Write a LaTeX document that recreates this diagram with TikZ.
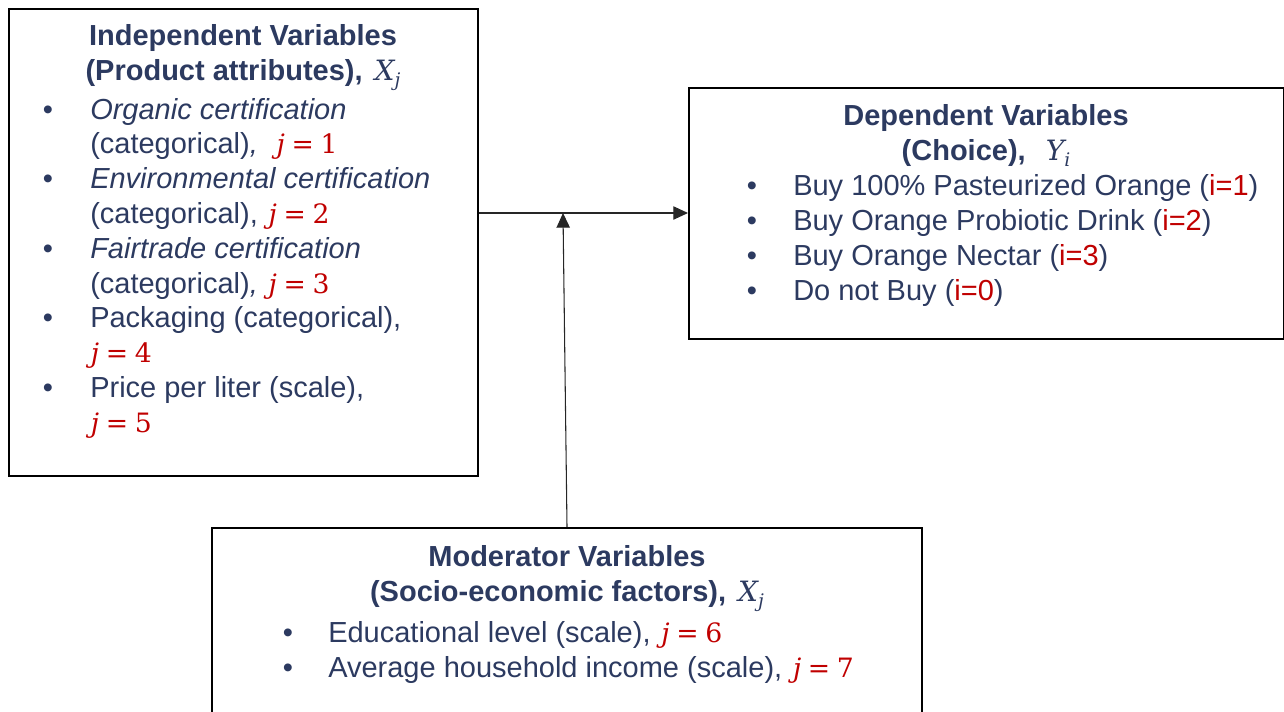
\documentclass[tikz,border=0pt]{standalone}
\usepackage{fontspec}
\setmainfont{Liberation Sans}
\newfontfamily\symserif{DejaVu Serif}
\usetikzlibrary{arrows.meta}
\definecolor{navy}{RGB}{44,58,96}
\definecolor{darkred}{RGB}{192,0,0}
% variables set in a sturdy serif, index as subscript
\newcommand{\vsym}[2]{{\symserif\mdseries\fontsize{21pt}{26pt}\selectfont\hspace{3pt}\itshape #1\raisebox{-4.5pt}{\fontsize{14pt}{16pt}\selectfont #2}}}
\newcommand{\jval}[1]{\textcolor{darkred}{\symserif\fontsize{20pt}{26pt}\selectfont\hspace{2pt}\textit{j}\hspace{5pt}=\hspace{5pt}#1}}
\newcommand{\ival}[1]{\textcolor{darkred}{i=#1}}
\begin{document}
\begin{tikzpicture}[x=0.75pt,y=-0.75pt,
  box/.style={draw=black, line width=1.5pt, inner sep=0pt, anchor=north west},
  txt/.style={anchor=base west, inner sep=0pt, text=navy, font=\fontsize{21.75pt}{26pt}\selectfont},
  ttl/.style={txt, anchor=base, font=\fontsize{21.75pt}{26pt}\selectfont\bfseries},
  bul/.style={txt, anchor=base},
  link/.style={draw=black!85, line width=0.8pt, -{Triangle[length=11pt,width=10pt]}}]
\useasboundingbox (0,0) rectangle (1284,711);
\clip (0,0) rectangle (1284,711);

% frames
\node[box, minimum width=351.75pt, minimum height=350.25pt] (L) at (8,8) {};
\node[box, minimum width=446.25pt, minimum height=188.25pt] (R) at (688,87) {};
\node[box, minimum width=532.5pt, minimum height=187.5pt] (M) at (211,527) {};

% independent variables
\node[ttl] (Lt1) at (243,45) {Independent Variables};
\node[ttl] (Lt2) at (243,80) {(Product attributes), \vsym{X}{j}};
\foreach \y/\n in {119/1,188.6/2,258.2/3,327.8/4,397.4/5}
  \node[bul] (Lb\n) at (48,\y) {\textbullet};
\node[txt] (L1) at (90,119) {\itshape Organic certification};
\node[txt] (L2) at (90,153.8) {(categorical)\textit{,}\ \ \jval{1}};
\node[txt] (L3) at (90,188.6) {\itshape Environmental certification};
\node[txt] (L4) at (90,223.4) {(categorical), \jval{2}};
\node[txt] (L5) at (90,258.2) {\itshape Fairtrade certification};
\node[txt] (L6) at (90,293) {(categorical)\textit{,} \jval{3}};
\node[txt] (L7) at (90,327.8) {Packaging (categorical),};
\node[txt] (L8) at (88,362.6) {\jval{4}};
\node[txt] (L9) at (90,397.4) {Price per liter (scale),};
\node[txt] (L10) at (88,432.2) {\jval{5}};

% dependent variables
\node[ttl] (Rt1) at (986,125) {Dependent Variables};
\node[ttl] (Rt2) at (986,160) {(Choice),\ \ \vsym{Y}{i}};
\foreach \y/\n in {195/1,230/2,265/3,300/4}
  \node[bul] (Rb\n) at (752,\y) {\textbullet};
\node[txt] (R1) at (793,195) {Buy 100\% Pasteurized Orange (\ival{1})};
\node[txt] (R2) at (793,230) {Buy Orange Probiotic Drink (\ival{2})};
\node[txt] (R3) at (793,265) {Buy Orange Nectar (\ival{3})};
\node[txt] (R4) at (793,300) {Do not Buy (\ival{0})};

% moderator variables
\node[ttl] (Mt1) at (567,566) {Moderator Variables};
\node[ttl] (Mt2) at (567,601) {(Socio-economic factors), \vsym{X}{j}};
\foreach \y/\n in {642/1,677/2}
  \node[bul] (Mb\n) at (288,\y) {\textbullet};
\node[txt] (M1) at (328,642) {Educational level (scale), \jval{6}};
\node[txt] (M2) at (328,677) {Average household income (scale), \jval{7}};

% connectors
\coordinate (jn) at (563,213);
\draw[link] (L.east |- jn) -- (R.west |- jn);
\draw[link] (M.north) -- (jn);
\end{tikzpicture}
\end{document}
